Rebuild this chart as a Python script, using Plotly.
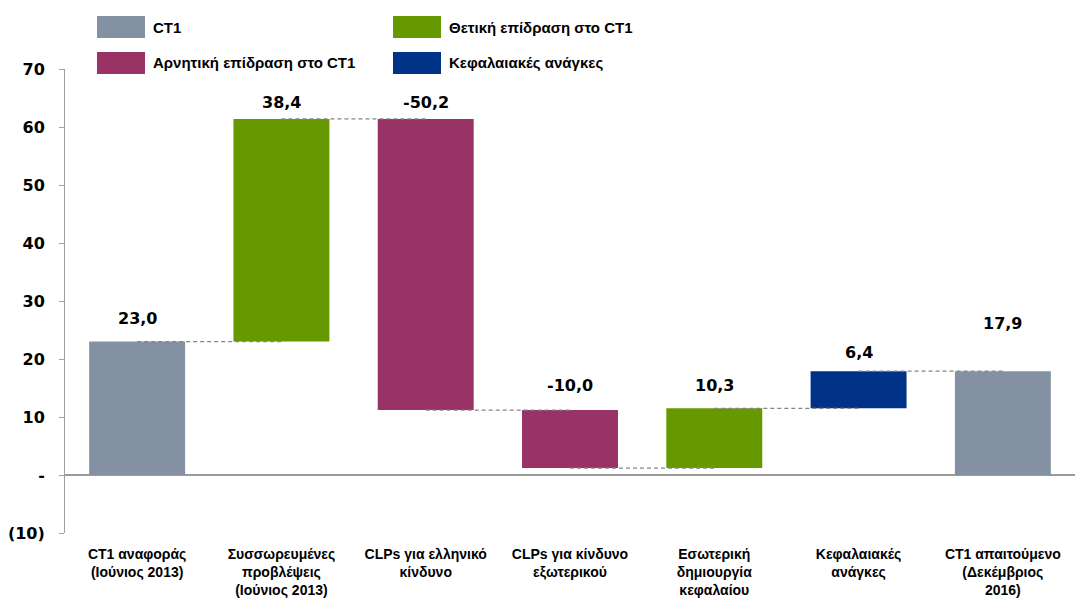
import plotly.graph_objects as go

categories = ["CT1 αναφοράς<br>(Ιούνιος 2013)", "Συσσωρευμένες<br>προβλέψεις<br>(Ιούνιος 2013)",
              "CLPs για ελληνικό<br>κίνδυνο", "CLPs για κίνδυνο<br>εξωτερικού",
              "Εσωτερική<br>δημιουργία<br>κεφαλαίου", "Κεφαλαιακές<br>ανάγκες",
              "CT1 απαιτούμενο<br>(Δεκέμβριος<br>2016)"]
changes = [23.0, 38.4, -50.2, -10.0, 10.3, 6.4, 17.9]
kinds = ["total", "pos", "neg", "neg", "pos", "need", "total"]
value_labels = ["23,0", "38,4", "-50,2", "-10,0", "10,3", "6,4", "17,9"]
legend_names = {"total": "CT1", "pos": "Θετική επίδραση στο CT1",
                "neg": "Αρνητική επίδραση στο CT1", "need": "Κεφαλαιακές ανάγκες"}
y_tickvals = [-10, 0, 10, 20, 30, 40, 50, 60, 70]
y_ticktext = ["(10)", "-", "10", "20", "30", "40", "50", "60", "70"]

colors = {"total": "#8491A3", "pos": "#669900", "neg": "#993366", "need": "#003388"}
label_shift = [12, 5, 5, 13, 11, 7, 36]

# compute bases / levels
bases, tops, levels = [], [], []
running = 0.0
for c, k in zip(changes, kinds):
    if k == "total":
        b, t = 0.0, c
        running = c
    else:
        start = running
        running = running + c
        b, t = min(start, running), max(start, running)
    bases.append(b)
    tops.append(t)
    levels.append(running)

xs = list(range(len(categories)))
fig = go.Figure()

# connectors
for i in range(len(xs) - 1):
    fig.add_trace(go.Scatter(x=[xs[i], xs[i + 1]], y=[levels[i], levels[i]], mode="lines",
                             line=dict(color="#858585", width=1.2, dash="4px,3px"),
                             showlegend=False, hoverinfo="skip"))

for k in ["total", "pos", "neg", "need"]:
    idx = [i for i in xs if kinds[i] == k]
    fig.add_trace(go.Bar(x=[xs[i] for i in idx], y=[tops[i] - bases[i] for i in idx],
                         base=[bases[i] for i in idx], marker=dict(color=colors[k], line=dict(width=0)),
                         width=0.665, name=legend_names[k], showlegend=False))

for i in xs:
    fig.add_annotation(x=xs[i], y=tops[i], text=value_labels[i], showarrow=False,
                       yanchor="bottom", yshift=label_shift[i],
                       font=dict(family="DejaVu Sans", size=16, color="#000000", weight="bold"))

# custom legend
leg_items = [("total", 97, 16), ("pos", 393, 16), ("neg", 97, 52), ("need", 393, 52)]
W, H = 1075, 601
for k, lx, ly in leg_items:
    fig.add_shape(type="rect", xref="paper", yref="paper",
                  x0=(lx - 65) / 1010, x1=(lx + 48 - 65) / 1010,
                  y0=(533 - ly - 22) / 464, y1=(533 - ly) / 464,
                  fillcolor=colors[k], line=dict(width=0))
    fig.add_annotation(xref="paper", yref="paper", x=(lx + 54 - 65) / 1010, y=(533 - ly - 11) / 464,
                       text=legend_names[k], showarrow=False, xanchor="left", yanchor="middle",
                       font=dict(family="Liberation Sans", size=15, color="#000000", weight="bold"))

fig.update_layout(
    width=W, height=H, margin=dict(l=65, r=0, t=69, b=68, autoexpand=False),
    paper_bgcolor="white", plot_bgcolor="white", barmode="overlay", showlegend=False,
    xaxis=dict(tickvals=xs, ticktext=categories, range=[-0.5, 6.5], showgrid=False,
               zeroline=False, showline=False, ticks="", ticklabelstandoff=11, automargin=False,
               tickfont=dict(family="Liberation Sans", size=14, color="#000000", weight="bold")),
    yaxis=dict(range=[-10, 70], tickvals=y_tickvals, ticktext=y_ticktext, showgrid=False,
               zeroline=True, zerolinecolor="#9A9A9A", zerolinewidth=2, automargin=False,
               showline=True, linecolor="#A0A0A0", linewidth=1, ticks="outside", ticklen=5,
               tickcolor="#A0A0A0", ticklabelstandoff=11,
               tickfont=dict(family="DejaVu Sans", size=16, color="#000000", weight="bold")),
)

fig.write_html("out.html", config={"displayModeBar": False},
               post_script="document.body.style.margin='0';")
